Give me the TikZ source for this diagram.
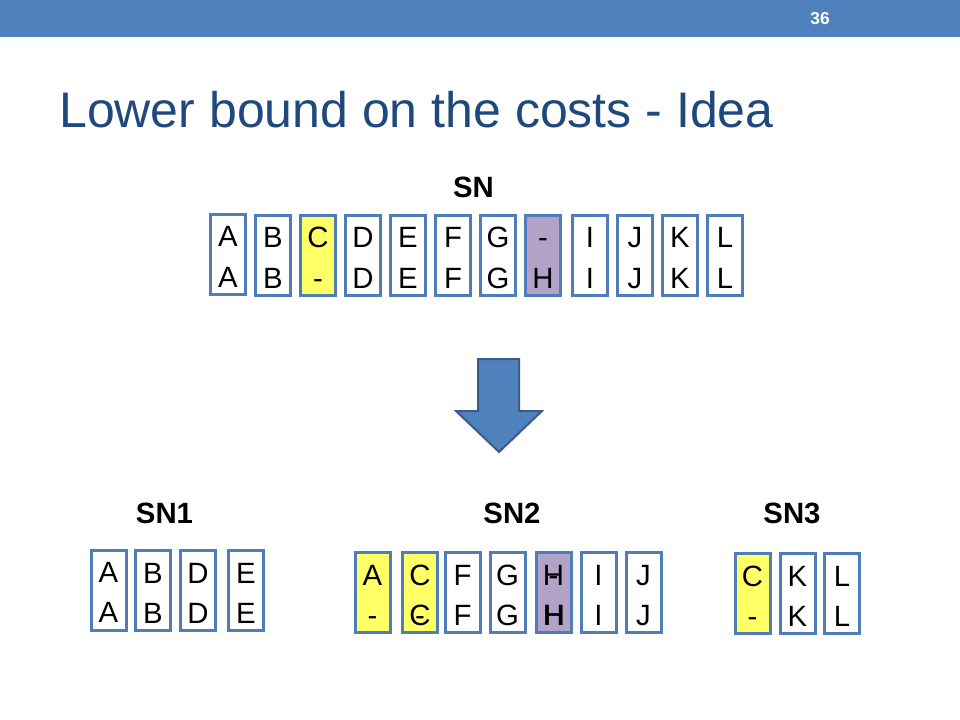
\documentclass[tikz,border=0pt]{standalone}
\usepackage{fontspec}
\setmainfont{Liberation Sans}
\definecolor{barblue}{RGB}{79,129,189}
\definecolor{titleblue}{RGB}{31,73,125}
\definecolor{boxline}{RGB}{79,125,185}
\definecolor{cellyellow}{RGB}{255,255,102}
\definecolor{cellpurple}{RGB}{179,162,199}
\definecolor{arrowline}{RGB}{56,93,138}
\tikzset{
  cellbox/.style={draw=boxline, line width=2.25pt, minimum width=26.25pt, minimum height=60pt, inner sep=0pt},
  letter/.style={anchor=base, inner sep=0pt, font=\fontsize{22}{26}\selectfont},
  label/.style={anchor=base, inner sep=0pt, font=\fontsize{22}{26}\selectfont\bfseries},
}
% \cell{name}{x}{y}{fill}{top}{bottom}
\newcommand\mycell[6]{%
  \node[cellbox, fill=#4] (#1) at (#2,#3) {};
  \node[letter] (#1t) at (#2,{#3-7.5}) {#5};
  \node[letter] (#1b) at (#2,{#3+32.5}) {#6};
}
\begin{document}
\begin{tikzpicture}[x=0.75pt,y=-0.75pt]
\useasboundingbox (0,0) rectangle (960,720);
\fill[white] (0,0) rectangle (960,720);
% top bar
\fill[barblue] (0,0) rectangle (960,37);
\node[text=white, font=\fontsize{13}{15}\selectfont\bfseries] (pnum) at (820,19) {36};
% title
\node[anchor=base west, inner sep=0pt, text=titleblue, font=\fontsize{37.5}{44}\selectfont] (title) at (59,128) {Lower bound on the costs - Idea};
% SN
\node[label] (sn) at (473.5,198) {SN};
\mycell{tA}{228}{254.5}{white}{A}{A}
\mycell{tB}{273}{255.5}{white}{B}{B}
\mycell{tC}{318}{255.5}{cellyellow}{C}{-}
\mycell{tD}{363}{255.5}{white}{D}{D}
\mycell{tE}{408}{255.5}{white}{E}{E}
\mycell{tF}{453}{255.5}{white}{F}{F}
\mycell{tG}{498}{255.5}{white}{G}{G}
\mycell{tH}{543}{255.5}{cellpurple}{-}{H}
\mycell{tI}{590}{255.5}{white}{I}{I}
\mycell{tJ}{635}{255.5}{white}{J}{J}
\mycell{tK}{680}{255.5}{white}{K}{K}
\mycell{tL}{725}{255.5}{white}{L}{L}
% arrow
\draw[fill=barblue, draw=arrowline, line width=1.5pt, line join=miter]
  (478,359) -- (519,359) -- (519,411) -- (542,411) -- (499,452) -- (456,411) -- (478,411) -- cycle;
% SN1
\node[label] (sn1) at (164.5,523) {SN1};
\mycell{aA}{108.5}{590}{white}{A}{A}
\mycell{aB}{153}{590.5}{white}{B}{B}
\mycell{aD}{198}{590.5}{white}{D}{D}
\mycell{aE}{246}{590.5}{white}{E}{E}
% SN2
\node[label] (sn2) at (512,523) {SN2};
\mycell{bA}{372.5}{592.5}{cellyellow}{A}{-}
\mycell{bC}{420}{592.5}{cellyellow}{C}{C}
\node[letter] (bCx) at (420,{592.5+32.5}) {-};
\mycell{bF}{462.5}{592.5}{white}{F}{F}
\mycell{bG}{507.5}{592.5}{white}{G}{G}
\mycell{bH}{553.5}{592.5}{cellpurple}{H}{H}
\node[letter] (bHx) at (553.5,{592.5-7.5}) {-};
\node[letter] (bHy) at (554.5,{592.5+32.5}) {H};
\mycell{bI}{598.5}{592.5}{white}{I}{I}
\mycell{bJ}{643.5}{592.5}{white}{J}{J}
% SN3
\node[label] (sn3) at (792,523) {SN3};
\mycell{cC}{752.5}{593.5}{cellyellow}{C}{-}
\mycell{cK}{797.5}{593.5}{white}{K}{K}
\mycell{cL}{842}{593.5}{white}{L}{L}
\end{tikzpicture}
\end{document}
